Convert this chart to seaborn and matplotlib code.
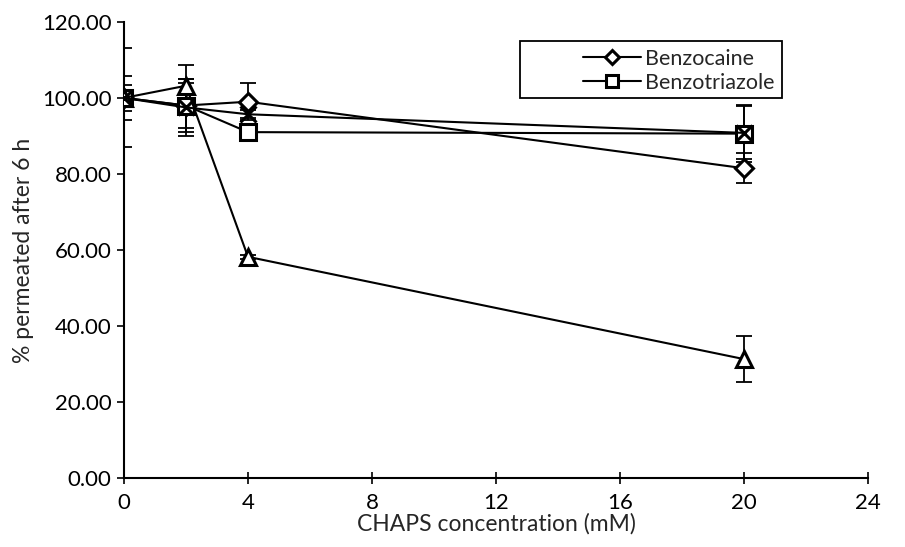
import numpy as np
import pandas as pd
import matplotlib
matplotlib.use("Agg")
import matplotlib.pyplot as plt
from matplotlib.patches import Rectangle
import seaborn as sns

conc = [0, 2, 4, 20]
benzocaine = [100.0, 98.0, 99.0, 81.5]
benzocaine_err = [3.5, 7.0, 4.8, 4.0]
benzotriazole = [100.0, 98.0, 91.0, 90.6]
benzotriazole_err = [5.8, 6.0, 1.5, 7.5]
series3 = [100.0, 103.2, 58.2, 31.3]
series3_err = [0.0, 5.5, 0.5, 6.0]
series4 = [100.0, 97.5, 95.7, 90.8]
series4_err = [13.0, 7.5, 1.0, 7.0]

names = ["Benzocaine", "Benzotriazole", "Series3", "Series4"]
values = [benzocaine, benzotriazole, series3, series4]
errors = [benzocaine_err, benzotriazole_err, series3_err, series4_err]
markers = ["D", "s", "^", "x"]
msizes = [9, 11, 11, 11]

sns.set_theme(style="white")
plt.rcParams["font.family"] = ["Lato", "DejaVu Sans"]

fig = plt.figure(figsize=(9.05, 5.47), dpi=100)
ax = fig.add_axes([0.137, 0.126, 0.822, 0.834])

for name, vals, errs, mk, ms in zip(names, values, errors, markers, msizes):
    df = pd.DataFrame({"x": conc, "y": vals})
    ax.errorbar(conc, vals, yerr=errs, fmt="none", ecolor="black",
                elinewidth=1.3, capsize=6, capthick=1.3, zorder=2)
    sns.lineplot(data=df, x="x", y="y", ax=ax, color="black", linewidth=1.5,
                 marker=mk, markersize=ms, markerfacecolor="white",
                 markeredgecolor="black", markeredgewidth=2.2, zorder=3,
                 label=name)

h, l = ax.get_legend_handles_labels()
leg = ax.legend(h[:2], l[:2], loc="upper right", bbox_to_anchor=(0.884, 0.958),
                borderaxespad=0, frameon=False, fontsize=15.5,
                handlelength=2.7, borderpad=0.35, labelspacing=0.2,
                handletextpad=0.15, markerfirst=True)
for lh, ms in zip(leg.legend_handles, [7, 8.5]):
    lh.set_markersize(ms)
ax.add_patch(Rectangle((0.532, 0.833), 0.884 - 0.532, 0.958 - 0.833,
                       transform=ax.transAxes, facecolor="white",
                       edgecolor="black", linewidth=1.3, zorder=4))
leg.set_zorder(5)

ax.set_xlim(0, 24)
ax.set_ylim(0, 120)
ax.set_xticks(np.arange(0, 25, 4))
ax.set_yticks(np.arange(0, 121, 20))
ax.set_yticklabels([f"{v:.2f}" for v in np.arange(0, 121, 20)])
ax.set_xlabel("CHAPS concentration (mM)", fontsize=16.5, labelpad=0)
ax.set_ylabel("% permeated after 6 h", fontsize=16.5, labelpad=6)
ax.tick_params(axis="both", labelsize=16, colors="black")
ax.tick_params(axis="x", direction="inout", length=8, width=1.2, pad=7)
ax.tick_params(axis="y", direction="out", length=5, width=1.2, pad=4, left=True)
ax.tick_params(axis="x", bottom=True)
for s in ["top", "right"]:
    ax.spines[s].set_visible(False)
for s in ["left", "bottom"]:
    ax.spines[s].set_color("black")
    ax.spines[s].set_linewidth(1.5)

fig.savefig("out.png", dpi=100)
